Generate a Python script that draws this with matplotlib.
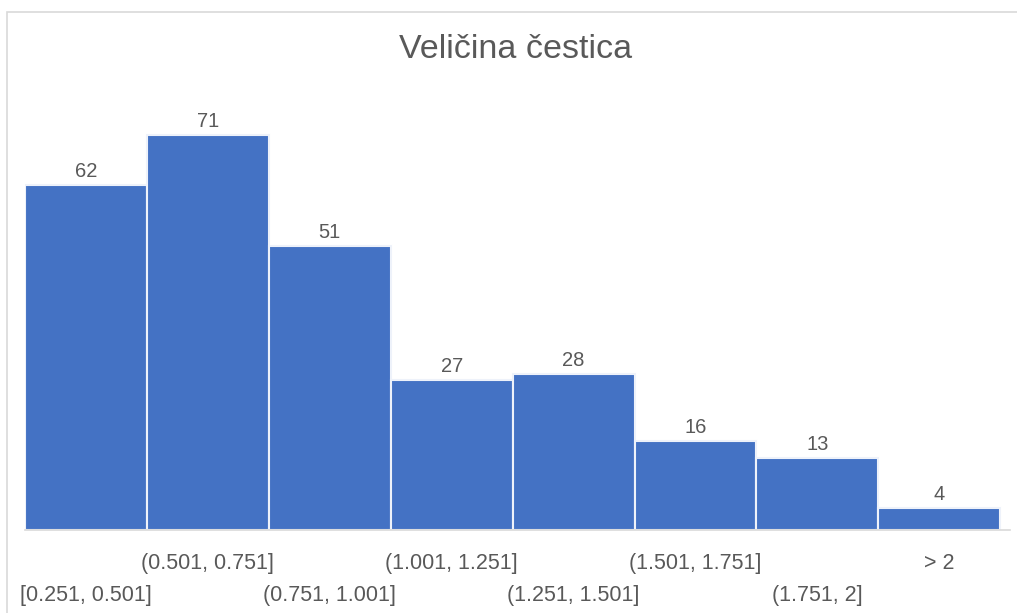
import matplotlib
matplotlib.use("Agg")
import matplotlib.pyplot as plt
from matplotlib.patches import Rectangle

# podaci
bins = ["[0.251, 0.501]", "(0.501, 0.751]", "(0.751, 1.001]", "(1.001, 1.251]",
        "(1.251, 1.501]", "(1.501, 1.751]", "(1.751, 2]", "> 2"]
counts = [62, 71, 51, 27, 28, 16, 13, 4]

plt.rcParams['font.family'] = ['Liberation Sans', 'DejaVu Sans']
text_col = "#595959"
bar_col = "#4472C4"

W, H = 1017, 613
fig = plt.figure(figsize=(W / 100, H / 100), dpi=100)

# okvir grafikona (desna i donja ivica su van slike)
fig.patches.append(Rectangle((7 / W, -0.2), 1.3, 1.2 - 12 / H, transform=fig.transFigure,
                             fill=False, edgecolor="#D9D9D9", linewidth=1.2))

ax = fig.add_axes([25 / W, (H - 530) / H, 985 / W, 417 / H])
x = list(range(len(counts)))
ax.bar(x, counts, width=1.0, align="edge", color=bar_col,
       edgecolor="#EEF2FA", linewidth=1.5)
ax.set_xlim(0, 8.08)
ax.set_ylim(0, 75)

for xi, c in zip(x, counts):
    ax.annotate(str(c), (xi + 0.5, c), xytext=(0, 3), textcoords="offset points",
                ha="center", va="bottom", fontsize=14.5, color=text_col)

# stepenaste oznake kategorija
for i, lab in enumerate(bins):
    dy = -24 if i % 2 == 1 else -47
    ax.annotate(lab, (i + 0.5, 0), xycoords=("data", "axes fraction"),
                xytext=(0, dy), textcoords="offset points",
                ha="center", va="center", fontsize=15.5, color=text_col)

for s in ["top", "right", "left"]:
    ax.spines[s].set_visible(False)
ax.spines["bottom"].set_color("#D9D9D9")
ax.spines["bottom"].set_linewidth(1.2)
ax.set_xticks([])
ax.set_yticks([])

fig.text(516 / W, 1 - 50 / H, "Veličina čestica", ha="center", va="center",
         fontsize=24.5, color=text_col)

fig.savefig("out.png", dpi=100)
